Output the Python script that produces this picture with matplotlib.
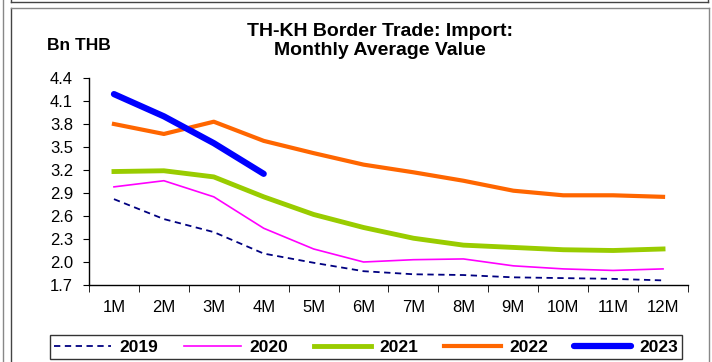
import matplotlib
matplotlib.use("Agg")
import matplotlib.pyplot as plt
from matplotlib.lines import Line2D
import numpy as np

plt.rcParams['font.family'] = ['Liberation Sans', 'DejaVu Sans']

months = ["1M", "2M", "3M", "4M", "5M", "6M", "7M", "8M", "9M", "10M", "11M", "12M"]
y2019 = [2.82, 2.56, 2.39, 2.11, 1.99, 1.88, 1.84, 1.83, 1.80, 1.79, 1.78, 1.76]
y2020 = [2.98, 3.06, 2.85, 2.44, 2.17, 2.00, 2.03, 2.04, 1.95, 1.91, 1.89, 1.91]
y2021 = [3.18, 3.19, 3.11, 2.85, 2.62, 2.45, 2.31, 2.22, 2.19, 2.16, 2.15, 2.17]
y2022 = [3.80, 3.67, 3.83, 3.58, 3.42, 3.27, 3.17, 3.06, 2.93, 2.87, 2.87, 2.85]
y2023 = [4.19, 3.90, 3.55, 3.15]
yticks = [1.7, 2.0, 2.3, 2.6, 2.9, 3.2, 3.5, 3.8, 4.1, 4.4]

fig = plt.figure(figsize=(7.12, 3.62), dpi=100)
W, H = 712, 362

# outer frames
def fline(xs, ys, color="#555555", lw=1.0):
    fig.add_artist(Line2D([x / W for x in xs], [1 - y / H for y in ys],
                          color=color, lw=lw, transform=fig.transFigure))

fline([11, 708], [2, 2], color="#444444")
fline([11, 11], [0, 2], color="#444444")
fline([708, 708], [0, 2], color="#444444")
fline([3, 3], [0, 362], color="#888888")
fline([11, 11], [8, 362], color="#444444")
fline([11, 709], [8, 8], color="#888888")
fline([709, 709], [8, 362], color="#888888")

ax = fig.add_axes([89 / W, 1 - 285 / H, (688 - 89) / W, (285 - 78) / H])
x = np.arange(len(months))

ax.plot(x, y2019, color="#000080", lw=1.3, ls=(0, (3.5, 2.5)), label="2019")
ax.plot(x, y2020, color="#FF00FF", lw=1.2, label="2020")
ax.plot(x, y2021, color="#99CC00", lw=3.5, label="2021")
ax.plot(x, y2022, color="#FF6600", lw=3.0, label="2022")
ax.plot(x[:len(y2023)], y2023, color="#0000FF", lw=4.5, solid_capstyle="round", label="2023")

ax.set_xlim(-0.5, len(months) - 0.5)
ax.set_ylim(1.7, 4.4)
ax.set_yticks(yticks)
ax.set_yticklabels([f"{v:.1f}" for v in yticks], fontsize=12)
ax.set_xticks(x)
ax.set_xticklabels(months, fontsize=12)
ax.set_xticks(np.arange(-0.5, len(months), 1.0), minor=True)
ax.tick_params(axis="x", which="major", length=0, pad=11)
ax.tick_params(axis="x", which="minor", length=5, direction="out")
ax.tick_params(axis="y", length=4.5, direction="out", pad=7)
for s in ["top", "right"]:
    ax.spines[s].set_visible(False)
for s in ["left", "bottom"]:
    ax.spines[s].set_color("black")
    ax.spines[s].set_linewidth(1.0)

fig.text(380 / W, 1 - 41 / H, "TH-KH Border Trade: Import:\nMonthly Average Value",
         ha="center", va="center", fontsize=14, fontweight="bold", linespacing=1.15)
fig.text(47 / W, 1 - 45 / H, "Bn THB", ha="left", va="center", fontsize=12.5, fontweight="bold")

leg = fig.legend(loc="center", bbox_to_anchor=(366 / W, 1 - 347 / H), ncol=5,
                 frameon=True, fancybox=False, edgecolor="black",
                 prop={"weight": "bold", "size": 12.5}, handlelength=3.3,
                 columnspacing=1.5, handletextpad=0.45, borderpad=0.25)
leg.get_frame().set_linewidth(1.0)

fig.savefig("out.png", dpi=100)
